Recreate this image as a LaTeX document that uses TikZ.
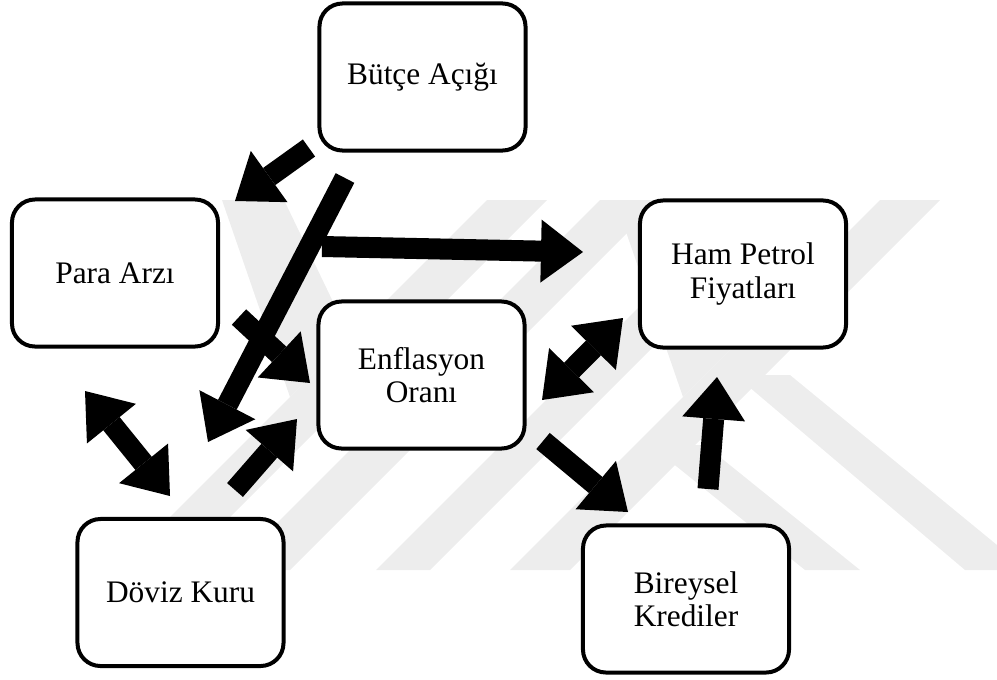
\documentclass[tikz,border=0pt]{standalone}
\usepackage{fontspec}
\setmainfont{Liberation Serif}
\usetikzlibrary{arrows.meta}

\begin{document}
\begin{tikzpicture}[x=0.025cm,y=-0.025cm,
		kutu/.style={draw,line width=0.1cm,rounded corners=0.575cm,fill=white,
			minimum width=5.15cm,minimum height=3.675cm,align=center,
			font=\fontsize{22.3}{23.5}\selectfont},
		ok/.style={line width=0.525cm,-{Triangle[width=1.575cm,length=1.05cm,line width=0pt]}},
		ciftok/.style={line width=0.525cm,{Triangle[width=1.575cm,length=1.05cm,line width=0pt]}-{Triangle[width=1.575cm,length=1.05cm,line width=0pt]}},
		filigran/.style={fill=black!7}]
				\useasboundingbox (0,0) rectangle (997,679);
				%-- filigran
				\fill[filigran] (487,200) -- (547,200) -- (177,570) -- (117,570) -- cycle;
				\fill[filigran] (600,200) -- (660,200) -- (290,570) -- (230,570) -- cycle;
				\fill[filigran] (746,200) -- (800,200) -- (430,570) -- (376,570) -- cycle;
				\fill[filigran] (880,200) -- (940,200) -- (570,570) -- (510,570) -- cycle;
				\fill[filigran] (222,200) -- (284,200) -- (350,337) -- (290,397) -- cycle;
				\fill[filigran] (615,200) -- (677,200) -- (743,337) -- (683,397) -- cycle;
				\fill[filigran] (735,375) -- (790,375) -- (997,545) -- (997,570) -- (965,570) -- cycle;
				\fill[filigran] (650,445) -- (705,445) -- (860,570) -- (805,570) -- cycle;
				%-- kutular
				\node[kutu] (butce) at (422.5,77) {Bütçe Açığı};
				\node[kutu] (para) at (115,273) {Para Arzı};
				\node[kutu] (ham) at (743,274) {Ham Petrol\\Fiyatları};
				\node[kutu] (enf) at (421.5,375) {Enflasyon\\Oranı};
				\node[kutu] (doviz) at (180.5,592.5) {Döviz Kuru};
				\node[kutu] (kredi) at (686,599) {Bireysel\\Krediler};
				%-- ok uclari
				\coordinate (b1) at (309,148);
				\coordinate (p1) at (235,201);
				\coordinate (b2) at (345,178);
				\coordinate (d1) at (208,442);
				\coordinate (b3) at (322,246.5);
				\coordinate (h1) at (583,252);
				\coordinate (p2) at (239,317);
				\coordinate (e1) at (310,383);
				\coordinate (p3) at (85,391);
				\coordinate (d2) at (170,496);
				\coordinate (d3) at (235,490);
				\coordinate (e2) at (297,419);
				\coordinate (e3) at (542,400);
				\coordinate (h2) at (623,318);
				\coordinate (e4) at (543,441);
				\coordinate (k1) at (628,512);
				\coordinate (k2) at (708,489);
				\coordinate (h3) at (717,377);
				%-- oklar
				\draw[ok] (b1) -- (p1);
				\draw[ok] (b2) -- (d1);
				\draw[ok] (b3) -- (h1);
				\draw[ok] (p2) -- (e1);
				\draw[ciftok] (p3) -- (d2);
				\draw[ok] (d3) -- (e2);
				\draw[ciftok] (e3) -- (h2);
				\draw[ok] (e4) -- (k1);
				\draw[ok] (k2) -- (h3);
			\end{tikzpicture}
\end{document}
